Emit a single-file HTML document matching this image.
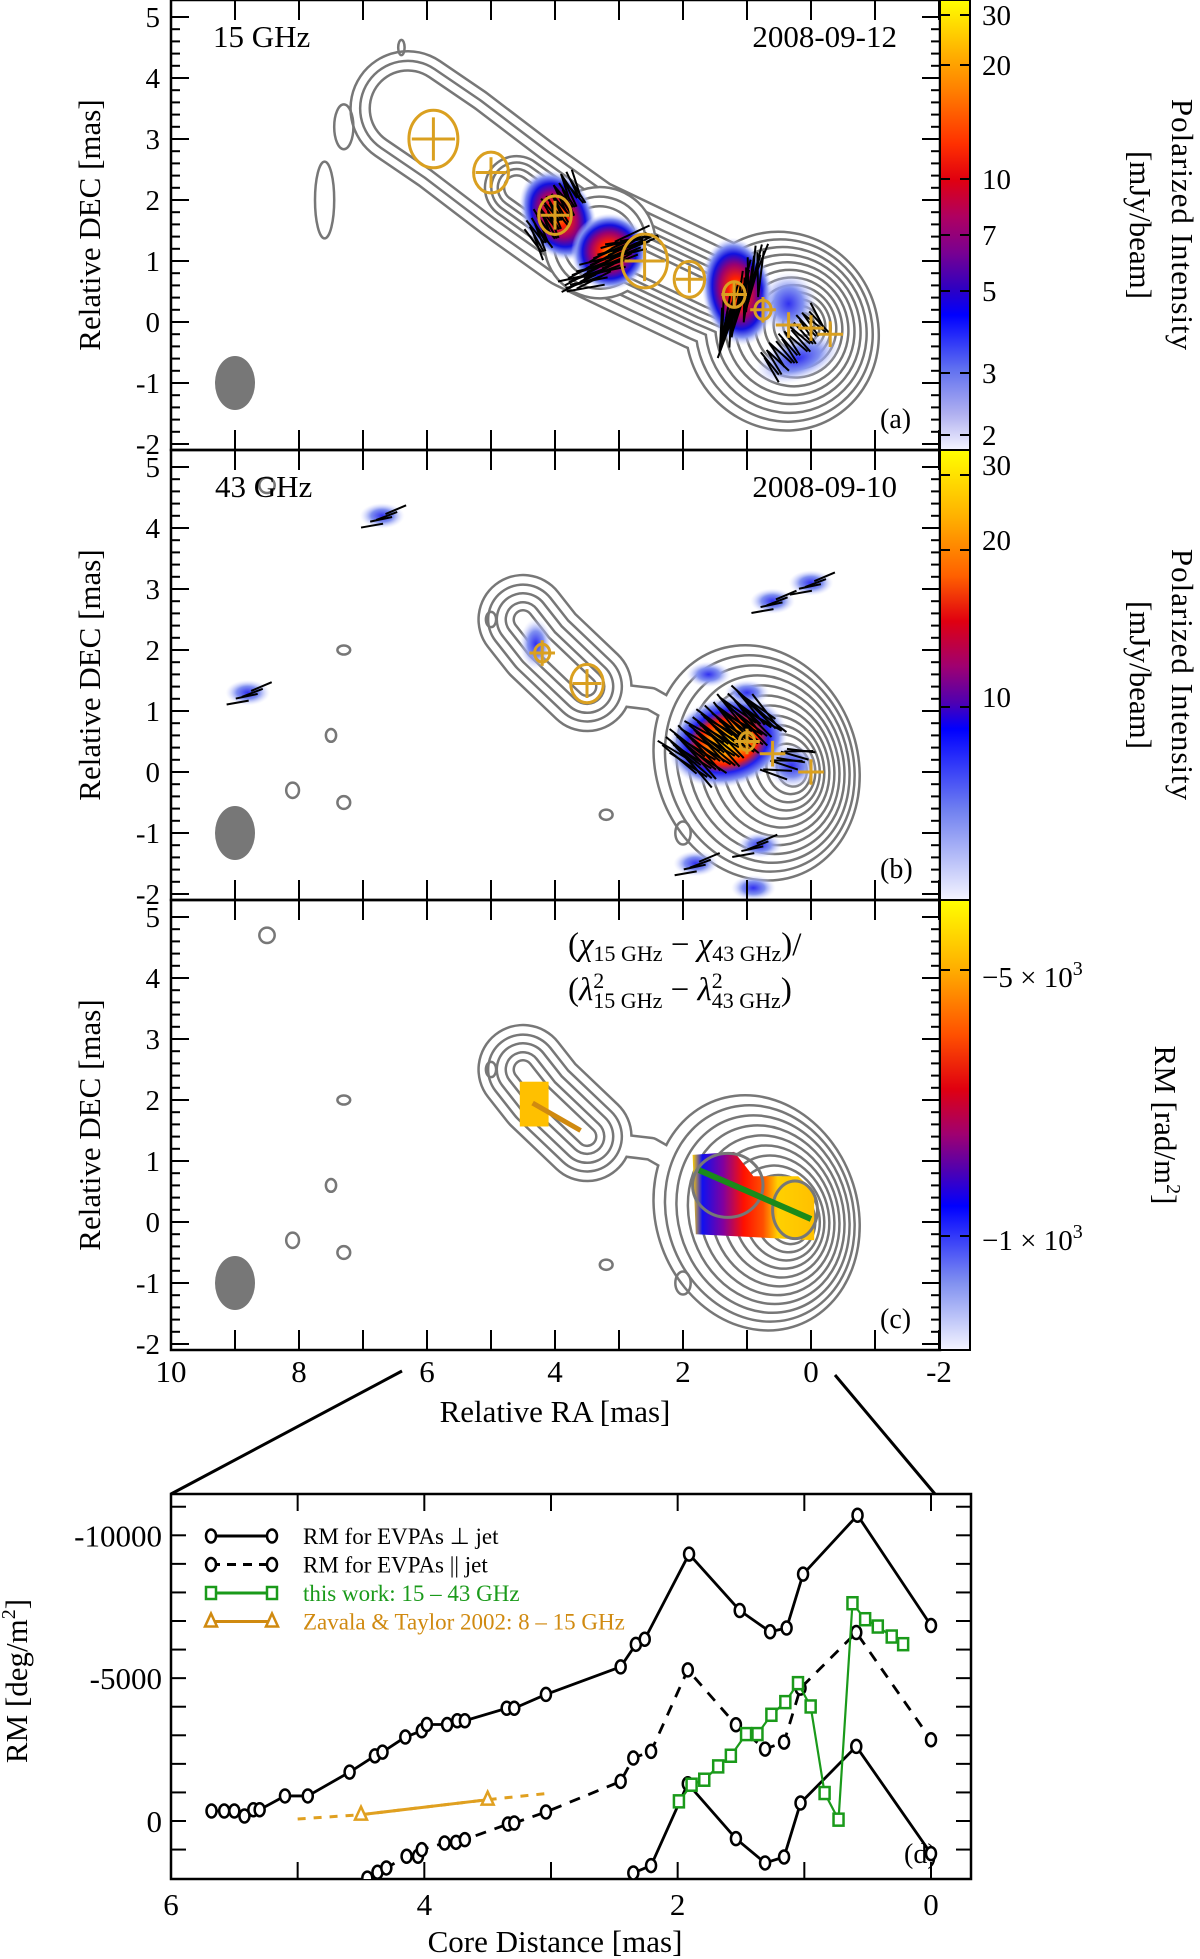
<!DOCTYPE html>
<html><head><meta charset="utf-8"><style>
html,body{margin:0;padding:0;background:#fff}
svg{display:block;font-family:"Liberation Serif",serif}
</style></head><body>
<svg id="fig" width="1200" height="1959" viewBox="0 0 1200 1959" xmlns="http://www.w3.org/2000/svg">
<defs>
<linearGradient id="cbA" x1="0" y1="0" x2="0" y2="1">
<stop offset="0" stop-color="#ffff00"/><stop offset="0.12" stop-color="#ffb000"/><stop offset="0.2" stop-color="#ff8000"/><stop offset="0.32" stop-color="#ff3000"/><stop offset="0.4" stop-color="#e00010"/><stop offset="0.48" stop-color="#b00060"/><stop offset="0.56" stop-color="#7a0090"/><stop offset="0.64" stop-color="#3000c0"/><stop offset="0.7" stop-color="#0000ff"/><stop offset="0.82" stop-color="#6070f0"/><stop offset="0.92" stop-color="#b0b0f0"/><stop offset="1" stop-color="#f4f4ff"/>
</linearGradient>
<linearGradient id="cbB" x1="0" y1="0" x2="0" y2="1">
<stop offset="0" stop-color="#ffff00"/><stop offset="0.15" stop-color="#ffb000"/><stop offset="0.28" stop-color="#ff6000"/><stop offset="0.38" stop-color="#e00010"/><stop offset="0.48" stop-color="#a00070"/><stop offset="0.56" stop-color="#5000b0"/><stop offset="0.62" stop-color="#0000ff"/><stop offset="0.8" stop-color="#7080f0"/><stop offset="1" stop-color="#f4f4ff"/>
</linearGradient>
<linearGradient id="cbC" x1="0" y1="0" x2="0" y2="1">
<stop offset="0" stop-color="#ffff00"/><stop offset="0.15" stop-color="#ffb000"/><stop offset="0.3" stop-color="#ff5000"/><stop offset="0.42" stop-color="#e00010"/><stop offset="0.52" stop-color="#a00070"/><stop offset="0.6" stop-color="#5000b0"/><stop offset="0.68" stop-color="#0000ff"/><stop offset="0.85" stop-color="#8090f0"/><stop offset="1" stop-color="#f4f4ff"/>
</linearGradient>
<radialGradient id="polHot"><stop offset="0" stop-color="#ffb000"/><stop offset="0.25" stop-color="#ff2000"/><stop offset="0.5" stop-color="#9a0070"/><stop offset="0.7" stop-color="#1010e0"/><stop offset="0.85" stop-color="#8090f0"/><stop offset="1" stop-color="#d8dcff" stop-opacity="0"/></radialGradient>
<radialGradient id="polB"><stop offset="0" stop-color="#ffd000"/><stop offset="0.3" stop-color="#ff9000"/><stop offset="0.5" stop-color="#ff2000"/><stop offset="0.68" stop-color="#2020f0"/><stop offset="0.85" stop-color="#8090f0"/><stop offset="1" stop-color="#d8dcff" stop-opacity="0"/></radialGradient>
<radialGradient id="polLite"><stop offset="0" stop-color="#3030f0"/><stop offset="0.5" stop-color="#8090f0"/><stop offset="1" stop-color="#dde0ff" stop-opacity="0"/></radialGradient>
<linearGradient id="rmGrad" x1="0" y1="0" x2="1" y2="0">
<stop offset="0" stop-color="#ffd000"/><stop offset="0.08" stop-color="#1010f0"/><stop offset="0.25" stop-color="#8000a0"/><stop offset="0.42" stop-color="#ff1000"/><stop offset="0.58" stop-color="#ff5000"/><stop offset="0.7" stop-color="#ffd000"/><stop offset="1" stop-color="#ffc000"/>
</linearGradient>
<clipPath id="clipA"><rect x="171" y="0" width="769" height="450"/></clipPath>
<clipPath id="clipB"><rect x="171" y="450" width="769" height="450"/></clipPath>
<clipPath id="clipC"><rect x="171" y="900" width="769" height="450"/></clipPath>
<clipPath id="clipD"><rect x="171" y="1494" width="800" height="385"/></clipPath>
</defs>
<g id="pa" clip-path="url(#clipA)"></g>
<g id="pb" clip-path="url(#clipB)"></g>
<g id="pc" clip-path="url(#clipC)"></g>
<g id="frames"></g>

<rect x="940" y="0" width="30" height="450" fill="url(#cbA)" stroke="#000" stroke-width="2"/>
<rect x="940" y="450" width="30" height="450" fill="url(#cbB)" stroke="#000" stroke-width="2"/>
<rect x="940" y="900" width="30" height="450" fill="url(#cbC)" stroke="#000" stroke-width="2"/>
<g id="cbticks"></g>
<g font-size="29" fill="#000">
<text x="982" y="25">30</text>
<text x="982" y="75">20</text>
<text x="982" y="189">10</text>
<text x="982" y="245">7</text>
<text x="982" y="301">5</text>
<text x="982" y="383">3</text>
<text x="982" y="445">2</text>
<text x="982" y="475">30</text>
<text x="982" y="550">20</text>
<text x="982" y="707">10</text>
<text x="982" y="987">−5 × 10<tspan font-size="20" dy="-12">3</tspan></text>
<text x="982" y="1250">−1 × 10<tspan font-size="20" dy="-12">3</tspan></text>
</g>
<g font-size="31" fill="#000">
<text transform="translate(1172,225) rotate(90)" text-anchor="middle" letter-spacing="1">Polarized Intensity</text>
<text transform="translate(1130,225) rotate(90)" text-anchor="middle">[mJy/beam]</text>
<text transform="translate(1172,675) rotate(90)" text-anchor="middle" letter-spacing="1">Polarized Intensity</text>
<text transform="translate(1130,675) rotate(90)" text-anchor="middle">[mJy/beam]</text>
<text transform="translate(1155,1125) rotate(90)" text-anchor="middle">RM [rad/m<tspan font-size="20" dy="-12">2</tspan><tspan dy="12">]</tspan></text>
<text transform="translate(100,225) rotate(-90)" text-anchor="middle">Relative DEC [mas]</text>
<text transform="translate(100,675) rotate(-90)" text-anchor="middle">Relative DEC [mas]</text>
<text transform="translate(100,1125) rotate(-90)" text-anchor="middle">Relative DEC [mas]</text>
<text x="213" y="47">15 GHz</text>
<text x="897" y="47" text-anchor="end">2008-09-12</text>
<text x="215" y="497">43 GHz</text>
<text x="897" y="497" text-anchor="end">2008-09-10</text>
<text x="880" y="428" font-size="28">(a)</text>
<text x="880" y="878" font-size="28">(b)</text>
<text x="880" y="1328" font-size="28">(c)</text>
<text x="568" y="955" font-size="33">(<tspan font-style="italic">χ</tspan><tspan font-size="22" dy="6">15 GHz</tspan><tspan dy="-6"> − </tspan><tspan font-style="italic">χ</tspan><tspan font-size="22" dy="6">43 GHz</tspan><tspan dy="-6">)/</tspan></text>
<text x="568" y="1000" font-size="33">(<tspan font-style="italic">λ</tspan><tspan font-size="22" dy="-12">2</tspan><tspan font-size="22" dx="-11" dy="20">15 GHz</tspan><tspan dy="-8"> − </tspan><tspan font-style="italic">λ</tspan><tspan font-size="22" dy="-12">2</tspan><tspan font-size="22" dx="-11" dy="20">43 GHz</tspan><tspan dy="-8">)</tspan></text>
<text x="555" y="1422" text-anchor="middle">Relative RA [mas]</text>
<text x="555" y="1952" text-anchor="middle">Core Distance [mas]</text>
<text transform="translate(27,1681) rotate(-90)" text-anchor="middle">RM [deg/m<tspan font-size="20" dy="-12">2</tspan><tspan dy="12">]</tspan></text>
<text x="904" y="1863" font-size="28">(d)</text>
</g>
<line x1="402" y1="1371" x2="171" y2="1494" stroke="#000" stroke-width="3"/>
<line x1="835" y1="1375" x2="935" y2="1494" stroke="#000" stroke-width="3"/>
<g id="pd"></g>
<g id="legend" font-size="23"></g>
</svg>
<script>
// ---- Panel (d) data ----
const perpDist=[5.68,5.58,5.50,5.42,5.35,5.30,5.10,4.92,4.59,4.39,4.33,4.15,4.02,3.98,3.82,3.74,3.68,3.35,3.29,3.04,2.45,2.33,2.26,1.91,1.51,1.27,1.14,1.01,0.58,0.0];
const perpRM=[-350,-350,-350,-175,-395,-395,-877,-877,-1711,-2281,-2412,-2939,-3158,-3377,-3377,-3509,-3509,-3947,-3947,-4430,-5395,-6184,-6360,-9342,-7368,-6623,-6754,-8640,-10702,-6842];
const perp2Dist=[2.35,2.21,1.92,1.54,1.31,1.16,1.03,0.59,0.0];
const perp2RM=[1818,1560,-1305,618,1468,1259,-629,-2611,1142];
const parDist=[4.45,4.37,4.30,4.14,4.05,4.02,3.84,3.75,3.68,3.34,3.29,3.04,2.45,2.35,2.21,1.92,1.54,1.31,1.16,1.03,0.59,0.0];
const parRM=[2000,1795,1643,1235,1235,1000,770,746,653,105,70,-315,-1387,-2203,-2436,-5290,-3368,-2517,-2762,-4650,-6597,-2844];
const greenDist=[1.99,1.89,1.79,1.68,1.58,1.46,1.37,1.26,1.15,1.05,0.95,0.84,0.73,0.62,0.52,0.42,0.31,0.22];
const greenRM=[-688,-1270,-1445,-1911,-2284,-3042,-3042,-3718,-4161,-4825,-4009,-979,-47,-7622,-7063,-6807,-6457,-6189];
const zavDist=[4.5,3.5];
const zavRM=[-221,-746];
const zavExtDist=[5.0,4.5,3.5,3.0];
const zavExtRM=[-70,-221,-746,-979];
const xTickVals=[6,4,2,0];
const yTickVals=[-10000,-5000,0];
const yTickLabels=["-10000","-5000","0"];
const raTickLabels=["10","8","6","4","2","0","-2"];
const decTickLabels=["5","4","3","2","1","0","-1","-2"];

const NS="http://www.w3.org/2000/svg";
function mk(tag,attrs,parent){const e=document.createElementNS(NS,tag);for(const k in attrs)e.setAttribute(k,attrs[k]);parent.appendChild(e);return e;}
const X=d=>931-d*126.67;
const Y=r=>1821+r*0.02857;

// ---- Panel (d) ----
const pd=document.getElementById('pd');
const frameD=mk('rect',{x:171,y:1494,width:800,height:385,fill:'none',stroke:'#000','stroke-width':2.5},pd);


for(let d=0;d<=6;d++){
  const t1=mk('line',{x1:X(d),x2:X(d),y1:1494,y2:1511,stroke:'#000','stroke-width':2},pd);
  
  
  const t2=mk('line',{x1:X(d),x2:X(d),y1:1862,y2:1879,stroke:'#000','stroke-width':2},pd);
  
  
}
xTickVals.forEach(v=>{
  const t=mk('text',{x:X(v),y:1915,'text-anchor':'middle','font-size':31},pd);
  t.textContent=String(v);
  
  
});
for(let r=-11000;r<=1000;r+=1000){
  const t1=mk('line',{x1:171,x2:186,y1:Y(r),y2:Y(r),stroke:'#000','stroke-width':2},pd);
  
  
  const t2=mk('line',{x1:956,x2:971,y1:Y(r),y2:Y(r),stroke:'#000','stroke-width':2},pd);
  
  
}
yTickVals.forEach((v,i)=>{
  const t=mk('text',{x:162,y:Y(v)+11,'text-anchor':'end','font-size':31},pd);
  t.textContent=yTickLabels[i];
  
  
});
const plotG=mk('g',{'clip-path':'url(#clipD)'},pd);


function series(ds,rs,color,dash,marker,name,width){
  const pts=ds.map((d,i)=>X(d)+','+Y(rs[i])).join(' ');
  const pl=mk('polyline',{points:pts,fill:'none',stroke:color,'stroke-width':width||2.8,'stroke-dasharray':dash||'none'},plotG);
  
  
  if(!marker)return;
  ds.forEach((d,i)=>{
    let m;
    if(marker==='circle')m=mk('ellipse',{cx:X(d),cy:Y(rs[i]),rx:5,ry:6.5,fill:'#fff',stroke:color,'stroke-width':2.5},plotG);
    else if(marker==='square')m=mk('rect',{x:X(d)-5,y:Y(rs[i])-6,width:10,height:12,fill:'#fff',stroke:color,'stroke-width':2.5},plotG);
    else m=mk('path',{d:`M${X(d)},${Y(rs[i])-8}L${X(d)+6},${Y(rs[i])+5}L${X(d)-6},${Y(rs[i])+5}Z`,fill:'#fff',stroke:color,'stroke-width':2.5},plotG);
    
    
  });
}
series(zavExtDist,zavExtRM,'#e0a020','8 8',null,'zavala-extension',3);
series(perpDist,perpRM,'#000',null,'circle','rm-perp-jet');
series(perp2Dist,perp2RM,'#000',null,'circle','rm-perp-jet-branch');
series(parDist,parRM,'#000','11 9','circle','rm-parallel-jet');
series(greenDist,greenRM,'#1a9a1a',null,'square','this-work',2.2);
series(zavDist,zavRM,'#e0a020',null,'triangle','zavala-taylor',3);

// legend
const lg=document.getElementById('legend');
const legItems=[["RM for EVPAs ⊥ jet","#000",null,'circle'],["RM for EVPAs || jet","#000","9 7",'circle'],["this work: 15 – 43 GHz","#1a9a1a",null,'square'],["Zavala & Taylor 2002: 8 – 15 GHz","#d08a10",null,'triangle']];
legItems.forEach((it,i)=>{
  const y=1536+i*28.5;
  const l=mk('line',{x1:211,x2:272,y1:y,y2:y,stroke:it[1],'stroke-width':3,'stroke-dasharray':it[2]||'none'},lg);
  
  
  [211,272].forEach(x=>{
    let m;
    if(it[3]==='circle')m=mk('ellipse',{cx:x,cy:y,rx:5,ry:6.5,fill:'#fff',stroke:it[1],'stroke-width':2.5},lg);
    else if(it[3]==='square')m=mk('rect',{x:x-5,y:y-6,width:10,height:12,fill:'#fff',stroke:it[1],'stroke-width':2.5},lg);
    else m=mk('path',{d:`M${x},${y-8}L${x+6},${y+5}L${x-6},${y+5}Z`,fill:'#fff',stroke:it[1],'stroke-width':2.5},lg);
    
    
  });
  const t=mk('text',{x:303,y:y+8,fill:it[1]},lg);
  t.textContent=it[0];
  
  
});

// ---- Maps ----
const base=[322,772,1222];
const mx=ra=>171+(10-ra)*64;
const myf=p=>dec=>base[p]-dec*61;
const S=64;
function contours(g,p,shapes,levels){
  const my=myf(p);
  for(let k=0;k<levels;k++){
    ['#777','#fff'].forEach((col,pass)=>{
      shapes.forEach(s=>{
        const sz=s.sizes[k]; if(sz===undefined||sz<=0)return;
        if(s.type==='line'){
          const pts=s.pts.map(q=>mx(q[0])+','+my(q[1])).join(' ');
          const w=sz*S+(pass?0:5);
          const e=mk('polyline',{points:pts,fill:'none',stroke:col,'stroke-width':w,'stroke-linejoin':'round','stroke-linecap':'round'},g);
          
          
        } else {
          const c=s.c(k);
          const e=mk('ellipse',{cx:mx(c[0]),cy:my(c[1]),rx:sz*S*s.ar+(pass?0:2.5),ry:sz*S+(pass?0:2.5),fill:col,transform:`rotate(${s.rot} ${mx(c[0])} ${my(c[1])})`},g);
          
          
        }
      });
    });
  }
}
function blob(g,p,ra,dec,rx,ry,rot,fill,name){
  const my=myf(p);
  const e=mk('ellipse',{cx:mx(ra),cy:my(dec),rx:rx*S,ry:ry*S,fill:fill,transform:`rotate(${rot} ${mx(ra)} ${my(dec)})`},g);
  
  
}
function sticks(g,p,ra,dec,rx,ry,ang,n,len){
  const my=myf(p);
  for(let i=0;i<n;i++){
    const fx=((i*0.618)%1)*2-1, fy=((i*0.377+0.13)%1)*2-1;
    if(fx*fx+fy*fy>1)continue;
    const cx=mx(ra)+fx*rx*S, cy=my(dec)+fy*ry*S;
    const a=(ang+((i*37)%24-12))*Math.PI/180, L=(len||0.45)*S/2;
    const e=mk('line',{x1:cx-L*Math.cos(a),y1:cy+L*Math.sin(a),x2:cx+L*Math.cos(a),y2:cy-L*Math.sin(a),stroke:'#000','stroke-width':2},g);
    
    
  }
}
function comp(g,p,ra,dec,r){
  const my=myf(p);
  if(r>0.12){const c=mk('ellipse',{cx:mx(ra),cy:my(dec),rx:r*S*0.85,ry:r*S,fill:'none',stroke:'#daa020','stroke-width':3},g);
  
  }
  const h=Math.max(r*0.75,0.2)*S;
  const pl=mk('path',{d:`M${mx(ra)-h},${my(dec)}H${mx(ra)+h}M${mx(ra)},${my(dec)-h}V${my(dec)+h}`,stroke:'#daa020','stroke-width':3},g);
  
  
}
function beam(g,p){
  const e=mk('ellipse',{cx:235,cy:myf(p)(-1),rx:20,ry:27,fill:'#777'},g);
  
  
}
function small(g,p,ra,dec,rx,ry){
  const my=myf(p);
  const e=mk('ellipse',{cx:mx(ra),cy:my(dec),rx:rx*S,ry:ry*S,fill:'none',stroke:'#777','stroke-width':2.5},g);
  
  
}

// Panel a
const pa=document.getElementById('pa');
contours(pa,0,[
 {type:'line',pts:[[6.3,3.5],[5.6,3.0],[4.6,2.2],[3.6,1.45],[2.6,0.95],[1.6,0.45],[0.6,0.0]],sizes:[1.75,1.45,1.15]},
 {type:'line',pts:[[4.6,2.2],[3.6,1.45],[2.6,0.95],[1.6,0.45],[0.6,0.0]],sizes:[0,0,0,0.95,0.75,0.55,0.35]},
 {type:'ell',c:k=>[0.45-k*0.03,-0.15+k*0.01],ar:0.95,rot:-28,sizes:[1.55,1.42,1.29,1.16,1.03,0.9,0.77,0.64,0.52,0.4,0.28,0.16]},
 {type:'ell',c:k=>[3.3,1.3],ar:1,rot:-35,sizes:[0,0,0,0.85,0.7,0.55]}
],12);
small(pa,0,7.3,3.2,0.15,0.35);small(pa,0,7.6,2.0,0.15,0.6);small(pa,0,6.4,4.5,0.05,0.12);
blob(pa,0,3.95,1.75,0.55,0.75,-30,'url(#polHot)','pol-knot-1');
blob(pa,0,3.15,1.15,0.6,0.6,-20,'url(#polHot)','pol-knot-2');
blob(pa,0,1.15,0.5,0.55,0.85,-10,'url(#polHot)','pol-core');
blob(pa,0,0.35,0.3,0.45,0.5,0,'url(#polLite)','pol-core-2');
blob(pa,0,0.2,-0.6,0.7,0.35,-20,'url(#polLite)','pol-faint');
sticks(pa,0,4.0,1.8,0.5,0.7,-60,50);
sticks(pa,0,3.15,1.0,0.7,0.55,20,60,0.6);
sticks(pa,0,1.1,0.4,0.45,0.8,80,45,0.7);
sticks(pa,0,0.3,-0.3,0.6,0.6,-50,30);
comp(pa,0,5.9,3.0,0.45);comp(pa,0,5.0,2.45,0.32);comp(pa,0,4.0,1.75,0.3);comp(pa,0,2.6,1.0,0.42);
comp(pa,0,1.9,0.7,0.28);comp(pa,0,1.2,0.45,0.2);comp(pa,0,0.75,0.2,0.15);comp(pa,0,0.35,-0.05,0.12);comp(pa,0,0.0,-0.1,0.12);comp(pa,0,-0.3,-0.2,0.12);
beam(pa,0);

// Panel b / c contours
function bcContours(g,p){
  contours(g,p,[
   {type:'line',pts:[[4.5,2.5],[4.2,2.1],[3.5,1.4]],sizes:[1.35,1.05,0.78,0.5,0.25]},
   {type:'line',pts:[[3.3,1.3],[2.5,1.2],[2.0,0.9]],sizes:[0.3]},
   {type:'ell',c:k=>[0.85-k*0.05,0.15-k*0.01],ar:0.84,rot:-20,sizes:[1.85,1.7,1.55,1.4,1.25,1.1,0.95,0.8,0.66,0.52,0.38,0.25]}
  ],12);
  small(g,p,7.3,2.0,0.1,0.07);small(g,p,5.0,2.5,0.08,0.12);small(g,p,7.3,-0.5,0.1,0.1);small(g,p,3.2,-0.7,0.1,0.08);
  small(g,p,7.5,0.6,0.08,0.1);small(g,p,8.1,-0.3,0.1,0.12);small(g,p,2.0,-1.0,0.12,0.18);small(g,p,8.5,4.7,0.12,0.12);
  beam(g,p);
}
const pb=document.getElementById('pb');
bcContours(pb,1);
blob(pb,1,1.3,0.5,0.95,0.7,-15,'url(#polB)','pol-core-43');
blob(pb,1,0.3,0.1,0.4,0.35,0,'url(#polLite)','pol-core-43b');
blob(pb,1,4.3,2.1,0.25,0.4,0,'url(#polLite)','pol-knot-43');
[[6.7,4.2],[8.8,1.3],[1.0,1.3],[1.6,1.6],[0.0,3.1],[0.6,2.8],[1.8,-1.5],[0.8,-1.2],[0.9,-1.9],[1.2,-2.3]].forEach(q=>blob(pb,1,q[0],q[1],0.35,0.2,0,'url(#polLite)','pol-noise'));
sticks(pb,1,1.3,0.55,0.9,0.65,-40,90,0.7);
sticks(pb,1,0.4,0.2,0.35,0.3,-10,12);
[[6.7,4.2],[8.8,1.3],[0.6,2.8],[0.0,3.1],[1.8,-1.5],[0.9,-1.2]].forEach(q=>sticks(pb,1,q[0],q[1],0.3,0.2,20,6,0.35));
comp(pb,1,4.2,1.95,0.14);comp(pb,1,3.5,1.45,0.3);comp(pb,1,1.0,0.5,0.14);comp(pb,1,0.6,0.3,0.12);comp(pb,1,0.0,0.0,0.12);

const pc=document.getElementById('pc');
bcContours(pc,2);
(function(){
  const my=myf(2);
  const r=mk('path',{d:`M${mx(1.85)},${my(1.1)}L${mx(1.2)},${my(1.15)}L${mx(0.9)},${my(0.75)}L${mx(0.2)},${my(0.75)}L${mx(-0.05)},${my(0.5)}L${mx(-0.05)},${my(-0.3)}L${mx(1.8)},${my(-0.2)}Z`,fill:'url(#rmGrad)'},pc);
  
  
  const r2=mk('rect',{x:mx(4.55),y:my(2.3),width:0.45*S,height:0.7*S,fill:'#ffc000'},pc);
  
  
  const c1=mk('ellipse',{cx:mx(1.3),cy:my(0.6),rx:0.55*S,ry:0.5*S,fill:'none',stroke:'#777','stroke-width':3},pc);
  
  
  const c2=mk('ellipse',{cx:mx(0.25),cy:my(0.2),rx:0.35*S,ry:0.45*S,fill:'none',stroke:'#777','stroke-width':3},pc);
  
  
  const gl=mk('line',{x1:mx(1.75),y1:my(0.85),x2:mx(0.0),y2:my(0.05),stroke:'#1a8a1a','stroke-width':6},pc);
  
  
  const ol=mk('line',{x1:mx(4.35),y1:my(1.95),x2:mx(3.6),y2:my(1.5),stroke:'#d08a10','stroke-width':5},pc);
  
  
})();

// Frames & ticks
const fr=document.getElementById('frames');
[0,1,2].forEach(p=>{
  const top=450*p;
  const r=mk('rect',{x:171,y:top,width:769,height:450,fill:'none',stroke:'#000','stroke-width':2.5},fr);
  
  
  const my=myf(p);
  for(let ra=-2;ra<=10;ra++){
    const a=mk('line',{x1:mx(ra),x2:mx(ra),y1:top,y2:top+20,stroke:'#000','stroke-width':2},fr);
    
    
    const b=mk('line',{x1:mx(ra),x2:mx(ra),y1:top+430,y2:top+450,stroke:'#000','stroke-width':2},fr);
    
    
  }
  for(let d=-2.2;d<=5.2;d+=0.2){
    const y=my(d); if(y<top+1||y>top+449)continue;
    const major=Math.abs(d-Math.round(d))<0.01;
    const L=major?18:9;
    const a=mk('line',{x1:171,x2:171+L,y1:y,y2:y,stroke:'#000','stroke-width':2},fr);
    
    
    const b=mk('line',{x1:940-L,x2:940,y1:y,y2:y,stroke:'#000','stroke-width':2},fr);
    
    
  }
  decTickLabels.forEach((lab,i)=>{
    const y=my(5-i);
    const t=mk('text',{x:160,y:y+10,'text-anchor':'end','font-size':29},fr);
    t.textContent=lab;
    
    
  });
});
raTickLabels.forEach((lab,i)=>{
  const t=mk('text',{x:mx(10-2*i),y:1382,'text-anchor':'middle','font-size':31},fr);
  t.textContent=lab;
  
  
});
const cbt=document.getElementById('cbticks');
[[15,65,179,235,291,373,435],[475,550,707],[970,1236]].forEach(arr=>arr.forEach(y=>{
  const a=mk('line',{x1:940,x2:950,y1:y,y2:y,stroke:'#000','stroke-width':2},cbt);
  
  
  const b=mk('line',{x1:960,x2:970,y1:y,y2:y,stroke:'#000','stroke-width':2},cbt);
  
  
}));
</script>
</body></html>
